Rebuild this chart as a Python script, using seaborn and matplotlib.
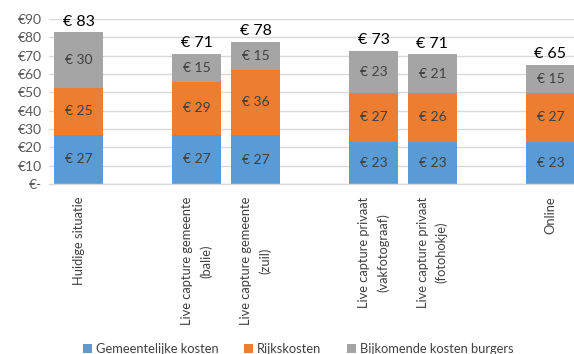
import matplotlib
matplotlib.use("Agg")
import matplotlib.pyplot as plt
import seaborn as sns
import pandas as pd
import numpy as np
from matplotlib.patches import Patch

categories = ["Huidige situatie",
              "Live capture gemeente\n(balie)",
              "Live capture gemeente\n(zuil)",
              "Live capture privaat\n(vakfotograaf)",
              "Live capture privaat\n(fotohokje)",
              "Online"]
gemeentelijke = [27.0, 27.0, 26.8, 23.0, 23.2, 23.2]
rijks = [25.3, 28.8, 35.7, 26.8, 26.4, 26.6]
bijkomend = [30.4, 15.2, 15.2, 23.0, 21.3, 15.3]
series_names = ["Gemeentelijke kosten", "Rijkskosten", "Bijkomende kosten burgers"]
yticks = [0, 10, 20, 30, 40, 50, 60, 70, 80, 90]
ytick_labels = ["€-", "€10", "€20", "€30", "€40", "€50", "€60", "€70", "€80", "€90"]

# empty slots between groups
order = [categories[0], " ", categories[1], categories[2], "  ",
         categories[3], categories[4], "   ", categories[5]]

colors = ["#5B9BD5", "#ED7D31", "#A5A5A5"]

df = pd.DataFrame({"cat": categories, "g": gemeentelijke, "r": rijks, "b": bijkomend})
df["c1"] = df["g"]
df["c2"] = df["g"] + df["r"]
df["c3"] = df["g"] + df["r"] + df["b"]

sns.set_style("white")
plt.rcParams["font.family"] = ["Lato", "DejaVu Sans"]

fig = plt.figure(figsize=(5.74, 3.54), dpi=100)
ax = fig.add_axes([0.0854, 0.48, 0.9146, 0.466])

for col, color in zip(["c3", "c2", "c1"], colors[::-1]):
    sns.barplot(data=df, x="cat", y=col, order=order, color=color,
                width=0.83, ax=ax, saturation=1, errorbar=None, linewidth=0)

pos = {c: order.index(c) for c in categories}
for _, row in df.iterrows():
    x = pos[row["cat"]]
    bottoms = [0, row["c1"], row["c2"]]
    vals = [row["g"], row["r"], row["b"]]
    for btm, v in zip(bottoms, vals):
        ax.text(x, btm + v / 2, f"€ {round(v):.0f}", ha="center", va="center",
                fontsize=10, color="#404040")
    ax.annotate(f"€ {round(row['c3']):.0f}", (x, row["c3"]), xytext=(0, 2.5),
                textcoords="offset points", ha="center", va="bottom",
                fontsize=11.5, color="black")

ax.set_ylim(0, 90)
ax.set_xlim(-0.5, 8.4)
ax.set_yticks(yticks)
ax.set_yticklabels(ytick_labels, fontsize=10, color="#595959")
ax.set_xticks(range(len(order)))
ax.set_xticklabels(order, rotation=90, fontsize=9.3, color="#404040",
                   multialignment="center", linespacing=1.6)
ax.tick_params(axis="y", length=0, pad=5)
ax.tick_params(axis="x", length=0, pad=9)
ax.set_xlabel("")
ax.set_ylabel("")
ax.yaxis.grid(True, color="#D9D9D9", linewidth=1)
ax.set_axisbelow(True)
for s in ["top", "right", "left"]:
    ax.spines[s].set_visible(False)
ax.spines["bottom"].set_color("#D9D9D9")
ax.spines["bottom"].set_linewidth(1)

handles = [Patch(facecolor=c, edgecolor="none") for c in colors]
fig.legend(handles, series_names, loc="lower center", ncol=3, frameon=False,
           fontsize=9.3, handlelength=0.7, handleheight=0.7, handletextpad=0.3,
           columnspacing=2.0, bbox_to_anchor=(0.52, -0.035), labelcolor="#404040")

fig.savefig("out.png", dpi=100)
